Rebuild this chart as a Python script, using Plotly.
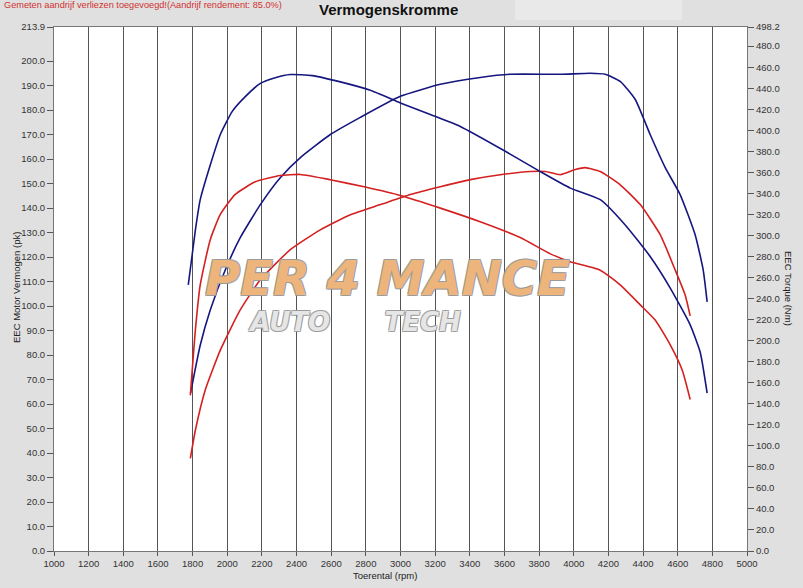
import plotly.graph_objects as go

# ---------------- data ----------------
blue_torque_rpm = [1775, 1816, 1844, 1902, 1960, 2029, 2104, 2191, 2277, 2364, 2491, 2653, 2826, 2999,
                   3172, 3345, 3605, 3807, 3980, 4153, 4297, 4441, 4557, 4672, 4730, 4770]
blue_torque_nm = [253, 305, 334, 367, 396, 418, 432, 444.6, 450, 453, 452, 446, 438, 426,
                  415, 403.6, 380, 360.7, 345, 334, 310, 280, 250, 215, 189, 150]

blue_power_rpm = [1788, 1844, 1902, 1989, 2075, 2191, 2306, 2422, 2595, 2768, 2999, 3230, 3460, 3634,
                  3922, 4095, 4182, 4268, 4355, 4441, 4528, 4614, 4701, 4747, 4770]
blue_power_pk = [64.4, 84, 98.4, 114.8, 127.9, 141.4, 152.4, 160.6, 170, 177, 185.6, 190.5, 193.3, 194.6,
                 194.6, 195, 194.6, 191.7, 184.3, 170, 156.5, 145.5, 129, 114.8, 101.7]

red_torque_rpm = [1787, 1816, 1844, 1902, 1960, 2046, 2162, 2306, 2422, 2595, 2797, 2999, 3230, 3460,
                  3691, 3865, 3980, 4153, 4268, 4384, 4470, 4557, 4626, 4672]
red_torque_nm = [148, 210, 253, 296, 320, 339, 351, 357, 358, 353, 346, 338, 326, 313,
                 298, 282.5, 275, 267, 253, 234, 219.6, 196, 172, 144]

red_power_rpm = [1787, 1816, 1873, 1960, 2075, 2191, 2364, 2537, 2711, 2884, 3057, 3230, 3403, 3576,
                 3749, 3836, 3922, 4009, 4066, 4153, 4268, 4384, 4499, 4585, 4643, 4672]
red_power_pk = [37.8, 49.3, 65.7, 82, 98.4, 110.7, 123, 131.1, 137.3, 141.4, 145.5, 148.7, 151.6, 153.6,
                154.9, 154.9, 153.6, 155.7, 156.5, 154.9, 149.5, 141.4, 129.1, 114.8, 104.5, 96]

x_ticks = list(range(1000, 5001, 200))
left_ticks = [v * 10.0 for v in range(0, 21)] + [213.9]
left_grid = [v * 10.0 for v in range(0, 22)]
right_ticks = [v * 20.0 for v in range(0, 25)] + [498.2]
LEFT_MAX = 213.9
RIGHT_MAX = 498.2

BLUE = "#16167f"
RED = "#d42020"
FONT = "Liberation Sans, Arial, sans-serif"

W, H = 803, 588
ML, MR, MT, MB = 54, 56, 27, 37
PW, PH = W - ML - MR, H - MT - MB


def px(x):
    return (x - ML) / PW


def py(y):
    return (H - MB - y) / PH


fig = go.Figure()

line_kw = dict(width=1.6, shape="spline", smoothing=0.5)
fig.add_trace(go.Scatter(x=blue_torque_rpm, y=blue_torque_nm, yaxis="y2", mode="lines",
                         line=dict(color=BLUE, **line_kw), showlegend=False, hoverinfo="skip"))
fig.add_trace(go.Scatter(x=blue_power_rpm, y=blue_power_pk, yaxis="y", mode="lines",
                         line=dict(color=BLUE, **line_kw), showlegend=False, hoverinfo="skip"))
fig.add_trace(go.Scatter(x=red_torque_rpm, y=red_torque_nm, yaxis="y2", mode="lines",
                         line=dict(color=RED, **line_kw), showlegend=False, hoverinfo="skip"))
fig.add_trace(go.Scatter(x=red_power_rpm, y=red_power_pk, yaxis="y", mode="lines",
                         line=dict(color=RED, **line_kw), showlegend=False, hoverinfo="skip"))

tickfont = dict(family=FONT, size=9.5, color="#333333")

fig.update_layout(
    width=W, height=H,
    margin=dict(l=ML, r=MR, t=MT, b=MB, autoexpand=False),
    paper_bgcolor="#e0e0e0",
    plot_bgcolor="#ffffff",
    showlegend=False,
    xaxis=dict(range=[1000, 5000], tickvals=x_ticks, ticktext=[str(v) for v in x_ticks],
               showgrid=True, gridcolor="#555555", gridwidth=1, zeroline=False,
               ticks="outside", ticklen=4, tickcolor="#555555", tickfont=tickfont,
               showline=True, linecolor="#777777", mirror=True),
    yaxis=dict(range=[0, LEFT_MAX], tickvals=left_ticks, ticktext=["%.1f" % v for v in left_ticks],
               showgrid=False, zeroline=False, ticks="outside", ticklen=6, tickcolor="#555555",
               tickfont=tickfont, showline=True, linecolor="#777777"),
    yaxis3=dict(range=[0, LEFT_MAX], overlaying="y", tickvals=left_grid, showticklabels=False,
                ticks="", showgrid=True, gridcolor="#555555", gridwidth=1, zeroline=False,
                showline=False),
    yaxis2=dict(range=[0, RIGHT_MAX], overlaying="y", side="right", tickvals=right_ticks,
                ticktext=["%.1f" % v for v in right_ticks], showgrid=False, zeroline=False,
                ticks="outside", ticklen=6, tickcolor="#555555", tickfont=tickfont,
                showline=True, linecolor="#777777"),
)

# light box at the top
fig.add_shape(type="rect", xref="paper", yref="paper", x0=px(515), x1=px(682), y0=py(20), y1=py(0),
              fillcolor="#e9e9e9", line=dict(width=0), layer="below")

ORANGE = "rgba(250,185,120,0.88)"
NB = "&nbsp;"
logo = ("<span style='font-size:48px'>PER" + NB + "4" + NB + "MANCE</span><br>"
        "<span style='font-size:26px;fill:rgba(248,248,248,0.92)'>" + NB * 5 + "AUTO" + NB * 6
        + "TECH</span>")

annotations = [
    dict(text="Gemeten aandrijf verliezen toegevoegd!(Aandrijf rendement: 85.0%)", x=px(2), y=py(5),
         xanchor="left", yanchor="middle", font=dict(family=FONT, size=9.2, color="#d03030")),
    dict(text="<b>Vermogenskromme</b>", x=px(388), y=py(9), xanchor="center", yanchor="middle",
         font=dict(family=FONT, size=15, color="#111111")),
    dict(text="EEC Motor Vermogen (pk)", x=px(16), y=py(288), textangle=-90, xanchor="center",
         yanchor="middle", font=dict(family=FONT, size=9.5, color="#222222")),
    dict(text="EEC Torque (Nm)", x=px(789), y=py(288), textangle=90, xanchor="center",
         yanchor="middle", font=dict(family=FONT, size=9.5, color="#222222")),
    dict(text="Toerental (rpm)", x=px(385), y=py(575), xanchor="center", yanchor="middle",
         font=dict(family=FONT, size=9.5, color="#222222")),
    # watermark logo
    dict(text="<b><i>" + logo + "</i></b>", x=px(203), y=py(293), xanchor="left", yanchor="middle",
         align="left",
         font=dict(family="DejaVu Sans", size=28, color=ORANGE,
                   shadow="1px 1px 0 #999, -1px -1px 0 #999, 1px -1px 0 #999, -1px 1px 0 #999")),
]
for a in annotations:
    a.update(xref="paper", yref="paper", showarrow=False)
    fig.add_annotation(**a)

fig.write_html("out.html", config={"displayModeBar": False},
               post_script="document.body.style.margin='0';document.body.style.background='#e0e0e0';")
